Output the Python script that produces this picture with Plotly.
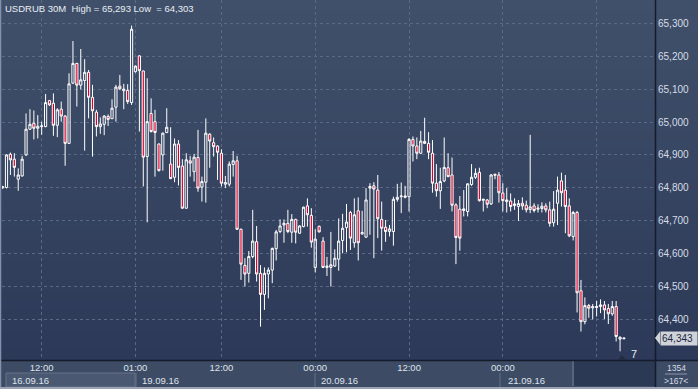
import plotly.graph_objects as go

# ---------------- data (USDRUB 30M) ----------------
opens = [64.800, 64.801, 64.902, 64.887, 64.826, 64.836, 64.900, 64.978, 64.996, 64.981,
         64.986, 64.986, 65.065, 65.057, 64.990, 65.039, 65.018, 64.935, 65.118, 65.178,
         65.112, 65.126, 65.151, 65.075, 65.030, 64.986, 64.993, 65.017, 65.010, 65.045,
         65.109, 65.095, 65.096, 65.059, 65.153, 65.201, 65.155, 64.895, 65.026, 65.001,
         64.933, 64.900, 64.968, 64.872, 64.832, 64.933, 64.866, 64.738, 64.882, 64.849,
         64.892, 64.802, 64.817, 64.963, 64.937, 64.927, 64.905, 64.811, 64.811, 64.871,
         64.882, 64.674, 64.564, 64.540, 64.591, 64.636, 64.540, 64.476, 64.538, 64.550,
         64.615, 64.667, 64.687, 64.692, 64.665, 64.704, 64.662, 64.682, 64.745, 64.716,
         64.558, 64.683, 64.638, 64.558, 64.558, 64.562, 64.583, 64.640, 64.679, 64.725,
         64.633, 64.730, 64.660, 64.650, 64.799, 64.806, 64.793, 64.704, 64.680, 64.667,
         64.667, 64.765, 64.773, 64.771, 64.773, 64.947, 64.927, 64.905, 64.941, 64.935,
         64.905, 64.814, 64.791, 64.821, 64.861, 64.839, 64.748, 64.735, 64.731, 64.728,
         64.810, 64.832, 64.847, 64.762, 64.763, 64.751, 64.838, 64.839, 64.784, 64.758,
         64.760, 64.746, 64.743, 64.753, 64.747, 64.734, 64.745, 64.735, 64.737, 64.745,
         64.733, 64.694, 64.753, 64.821, 64.793, 64.745, 64.652, 64.725, 64.487, 64.393,
         64.442, 64.435, 64.436, 64.439, 64.444, 64.433, 64.417, 64.439, 64.340, 64.341]
highs = [64.806, 64.902, 64.907, 64.905, 64.859, 64.897, 65.026, 65.039, 65.035, 65.021,
         65.001, 65.085, 65.067, 65.087, 65.042, 65.062, 65.021, 65.148, 65.246, 65.180,
         65.222, 65.191, 65.158, 65.113, 65.037, 65.014, 65.021, 65.023, 65.069, 65.113,
         65.143, 65.116, 65.115, 65.293, 65.172, 65.203, 65.156, 65.133, 65.072, 65.037,
         64.935, 64.968, 65.042, 64.984, 64.950, 64.945, 64.887, 64.905, 64.897, 64.903,
         64.976, 64.834, 65.011, 64.966, 64.953, 64.929, 64.917, 64.836, 64.880, 64.912,
         64.897, 64.676, 64.586, 64.608, 64.733, 64.684, 64.565, 64.558, 64.558, 64.618,
         64.672, 64.704, 64.704, 64.733, 64.720, 64.706, 64.686, 64.743, 64.768, 64.738,
         64.674, 64.685, 64.650, 64.590, 64.666, 64.613, 64.707, 64.721, 64.751, 64.730,
         64.768, 64.771, 64.730, 64.799, 64.814, 64.817, 64.839, 64.758, 64.702, 64.687,
         64.773, 64.812, 64.816, 64.806, 64.951, 64.956, 64.953, 64.973, 65.013, 64.969,
         64.945, 64.872, 64.861, 64.953, 64.905, 64.892, 64.753, 64.775, 64.793, 64.814,
         64.872, 64.859, 64.861, 64.766, 64.766, 64.842, 64.842, 64.848, 64.814, 64.799,
         64.783, 64.768, 64.763, 64.771, 64.761, 64.961, 64.753, 64.750, 64.756, 64.753,
         64.758, 64.790, 64.834, 64.846, 64.839, 64.768, 64.730, 64.730, 64.520, 64.467,
         64.447, 64.447, 64.456, 64.461, 64.456, 64.447, 64.456, 64.456, 64.348, 64.345]
lows = [64.797, 64.798, 64.839, 64.834, 64.791, 64.834, 64.897, 64.976, 64.947, 64.950,
        64.961, 64.984, 65.049, 64.958, 64.954, 65.001, 64.867, 64.933, 65.116, 65.047,
        65.099, 64.913, 65.011, 64.895, 64.956, 64.964, 64.960, 64.988, 65.009, 65.001,
        65.097, 65.039, 65.055, 65.052, 65.150, 64.971, 64.804, 64.695, 64.968, 64.834,
        64.850, 64.852, 64.966, 64.826, 64.817, 64.807, 64.736, 64.736, 64.834, 64.819,
        64.788, 64.758, 64.755, 64.861, 64.895, 64.824, 64.804, 64.799, 64.804, 64.834,
        64.672, 64.520, 64.500, 64.512, 64.586, 64.515, 64.378, 64.429, 64.464, 64.510,
        64.579, 64.662, 64.633, 64.662, 64.633, 64.631, 64.660, 64.680, 64.682, 64.618,
        64.543, 64.664, 64.556, 64.532, 64.500, 64.560, 64.548, 64.601, 64.604, 64.611,
        64.618, 64.579, 64.657, 64.648, 64.657, 64.586, 64.647, 64.609, 64.636, 64.652,
        64.624, 64.758, 64.723, 64.768, 64.728, 64.880, 64.887, 64.903, 64.933, 64.887,
        64.785, 64.773, 64.736, 64.817, 64.832, 64.728, 64.568, 64.609, 64.713, 64.713,
        64.806, 64.827, 64.758, 64.728, 64.738, 64.748, 64.826, 64.755, 64.728, 64.725,
        64.728, 64.733, 64.699, 64.733, 64.725, 64.723, 64.725, 64.725, 64.725, 64.725,
        64.682, 64.682, 64.687, 64.743, 64.662, 64.650, 64.640, 64.421, 64.363, 64.385,
        64.405, 64.400, 64.409, 64.419, 64.401, 64.386, 64.411, 64.333, 64.303, 64.340]
closes = [64.803, 64.900, 64.885, 64.862, 64.839, 64.887, 64.978, 64.993, 64.981, 64.987,
          64.988, 65.059, 65.052, 64.990, 65.037, 65.018, 64.935, 65.116, 65.178, 65.112,
          65.128, 65.151, 65.075, 65.034, 64.986, 64.994, 65.018, 65.008, 65.042, 65.106,
          65.101, 65.100, 65.062, 65.282, 65.170, 65.156, 64.893, 65.001, 64.971, 64.968,
          64.852, 64.966, 64.984, 64.828, 64.933, 64.862, 64.738, 64.885, 64.875, 64.893,
          64.799, 64.819, 64.966, 64.942, 64.925, 64.908, 64.814, 64.816, 64.872, 64.882,
          64.674, 64.568, 64.538, 64.591, 64.638, 64.538, 64.476, 64.540, 64.550, 64.616,
          64.666, 64.684, 64.692, 64.667, 64.704, 64.665, 64.684, 64.741, 64.718, 64.635,
          64.644, 64.666, 64.558, 64.562, 64.566, 64.586, 64.638, 64.677, 64.696, 64.647,
          64.718, 64.633, 64.664, 64.763, 64.804, 64.796, 64.706, 64.677, 64.667, 64.675,
          64.765, 64.771, 64.775, 64.775, 64.947, 64.927, 64.905, 64.942, 64.935, 64.908,
          64.814, 64.791, 64.819, 64.862, 64.834, 64.747, 64.649, 64.647, 64.736, 64.812,
          64.832, 64.844, 64.761, 64.765, 64.750, 64.839, 64.841, 64.785, 64.761, 64.763,
          64.743, 64.751, 64.752, 64.745, 64.733, 64.742, 64.731, 64.738, 64.744, 64.733,
          64.692, 64.735, 64.793, 64.785, 64.743, 64.654, 64.725, 64.481, 64.393, 64.442,
          64.434, 64.439, 64.439, 64.444, 64.429, 64.417, 64.439, 64.348, 64.346, 64.343]

bar_index = list(range(len(opens)))

time_tick_pos = [10, 34, 56, 80, 104, 128, 152]
time_tick_text = ["12:00", "01:00", "12:00", "00:00", "12:00", "00:00",
                  "<span style='color:#66728a'>12:00</span>"]

price_ticks = [64.4, 64.5, 64.6, 64.7, 64.8, 64.9, 65.0, 65.1, 65.2, 65.3]
price_tick_text = ["64,400", "64,500", "64,600", "64,700", "64,800",
                   "64,900", "65,000", "65,100", "65,200", "65,300"]

date_labels = ["16.09.16", "19.09.16", "20.09.16", "21.09.16"]
date_label_px = [10, 140, 319, 506]

title_text = "USDRUB 30M&nbsp; High = 65,293 Low&nbsp; = 64,303"
last_price = 64.343
last_price_text = "64,343"

# ---------------- layout geometry ----------------
W, H = 698, 389
ML, MR, MT, MB = 2, 43, 0, 29
PW, PH = W - ML - MR, H - MT - MB

def px(xp):
    return (xp - ML) / PW

def py(yp):
    return (H - MB - yp) / PH

FONT = "Liberation Sans, Arial, sans-serif"

fig = go.Figure()
fig.add_trace(go.Candlestick(
    x=bar_index, open=opens, high=highs, low=lows, close=closes,
    increasing=dict(line=dict(color="#ffffff", width=1), fillcolor="rgba(0,0,0,0)"),
    decreasing=dict(line=dict(color="#ffffff", width=1), fillcolor="#dc002c"),
    whiskerwidth=0, showlegend=False, hoverinfo="skip",
))

shapes = []
# background gradient (plot + right axis column)
top = (64, 80, 106)
bot = (44, 57, 88)
n = 36
for k in range(n):
    t = k / (n - 1)
    c = tuple(round(top[j] + (bot[j] - top[j]) * t) for j in range(3))
    shapes.append(dict(type="rect", xref="paper", yref="paper", layer="below",
                       x0=px(0), x1=px(W), y0=1 - (k + 1) / n - 0.002, y1=1 - k / n,
                       fillcolor="rgb(%d,%d,%d)" % c, line=dict(width=0)))
# bottom bar highlighted date box
shapes.append(dict(type="rect", xref="paper", yref="paper", x0=px(6), x1=px(135),
                   y0=py(387), y1=py(373), fillcolor="#4b5872",
                   line=dict(color="#66738c", width=1)))
# day separators in bottom bar
for xs in [136, 315, 500]:
    shapes.append(dict(type="line", xref="paper", yref="paper", x0=px(xs), x1=px(xs),
                       y0=py(387), y1=py(373), line=dict(color="#66738c", width=1)))
# dark "current" zone in bottom bar
shapes.append(dict(type="rect", xref="paper", yref="paper", x0=px(573), x1=px(655),
                   y0=py(386), y1=py(361), fillcolor="#2c3954", line=dict(width=0)))
shapes.append(dict(type="line", xref="paper", yref="paper", x0=px(573), x1=px(573),
                   y0=py(386), y1=py(361), line=dict(color="#59657d", width=2)))
# frame lines
shapes.append(dict(type="line", xref="paper", yref="paper", x0=px(0), x1=px(W),
                   y0=py(360.5), y1=py(360.5), line=dict(color="#141b2a", width=1.5)))
shapes.append(dict(type="line", xref="paper", yref="paper", x0=px(655.5), x1=px(655.5),
                   y0=py(H), y1=py(0), line=dict(color="#141b2a", width=1.5)))
shapes.append(dict(type="line", xref="paper", yref="paper", x0=px(0.5), x1=px(0.5),
                   y0=py(H), y1=py(0), line=dict(color="#8391aa", width=1.5)))
shapes.append(dict(type="line", xref="paper", yref="paper", x0=px(0), x1=px(W),
                   y0=py(388), y1=py(388), line=dict(color="#9aa4b4", width=2)))
# bottom-right counter separator
shapes.append(dict(type="line", xref="paper", yref="paper", x0=px(665), x1=px(687),
                   y0=py(374), y1=py(374), line=dict(color="#8a96aa", width=1)))
# price tag arrow
shapes.append(dict(type="path", xref="paper", yref="paper",
                   path="M %f %f L %f %f L %f %f Z" % (
                       px(655), py(338), px(660), py(331.5), px(660), py(344.5)),
                   fillcolor="#cfd3d9", line=dict(width=0)))
# small triangle marker near last bar
shapes.append(dict(type="path", xref="paper", yref="paper",
                   path="M %f %f L %f %f L %f %f Z" % (
                       px(618), py(360), px(622), py(355), px(626), py(360)),
                   fillcolor="#222c40", line=dict(width=0)))

annotations = [
    dict(text=title_text, xref="paper", yref="paper", x=px(3), y=py(8),
         xanchor="left", yanchor="middle", showarrow=False,
         font=dict(family=FONT, size=9.5, color="#e9edf3")),
    dict(text=last_price_text, xref="paper", yref="y", x=px(660), y=last_price,
         xanchor="left", yanchor="middle", showarrow=False, bgcolor="#cfd3d9",
         borderpad=1, width=34, align="left",
         font=dict(family=FONT, size=10, color="#1c2740")),
    dict(text="1354", xref="paper", yref="paper", x=px(676), y=py(368),
         xanchor="center", yanchor="middle", showarrow=False,
         font=dict(family=FONT, size=8.5, color="#d6dce6")),
    dict(text="&gt;167&lt;", xref="paper", yref="paper", x=px(676), y=py(381),
         xanchor="center", yanchor="middle", showarrow=False,
         font=dict(family=FONT, size=8.5, color="#d6dce6")),
    dict(text="7", xref="paper", yref="paper", x=px(629), y=py(354),
         xanchor="left", yanchor="middle", showarrow=False,
         font=dict(family=FONT, size=11, color="#e6ecf5")),
]
for lbl, xp in zip(date_labels, date_label_px):
    annotations.append(dict(text=lbl, xref="paper", yref="paper", x=px(xp), y=py(380),
                            xanchor="left", yanchor="middle", showarrow=False,
                            font=dict(family=FONT, size=9.5, color="#dfe4ec")))

# x range derived from candle pitch
x_lo, x_hi = -0.154, 166.94
y_lo, y_hi = 64.2766, 65.3708

fig.update_layout(
    width=W, height=H,
    margin=dict(l=ML, r=MR, t=MT, b=MB, pad=0),
    paper_bgcolor="#3d4b65",
    plot_bgcolor="rgba(0,0,0,0)",
    showlegend=False,
    hovermode=False,
    boxgap=0.2,
    shapes=shapes,
    annotations=annotations,
    xaxis=dict(
        range=[x_lo, x_hi], rangeslider=dict(visible=False),
        tickmode="array", tickvals=time_tick_pos, ticktext=time_tick_text,
        showgrid=True, gridcolor="#5a6984", gridwidth=1, griddash="3px,3px",
        zeroline=False, showline=False, ticks="", ticklen=0,
        tickfont=dict(family=FONT, size=9.5, color="#dfe4ec"),
        fixedrange=True,
    ),
    yaxis=dict(
        range=[y_lo, y_hi], side="right",
        tickmode="array", tickvals=price_ticks, ticktext=price_tick_text,
        showgrid=True, gridcolor="#5a6984", gridwidth=1, griddash="3px,3px",
        zeroline=False, showline=False, ticks="", ticklabelstandoff=2,
        tickfont=dict(family=FONT, size=10, color="#d6dce6"),
        fixedrange=True,
    ),
)

fig.write_html("out.html", config={"displayModeBar": False},
               post_script="document.body.style.margin='0';document.body.style.overflow='hidden';")
